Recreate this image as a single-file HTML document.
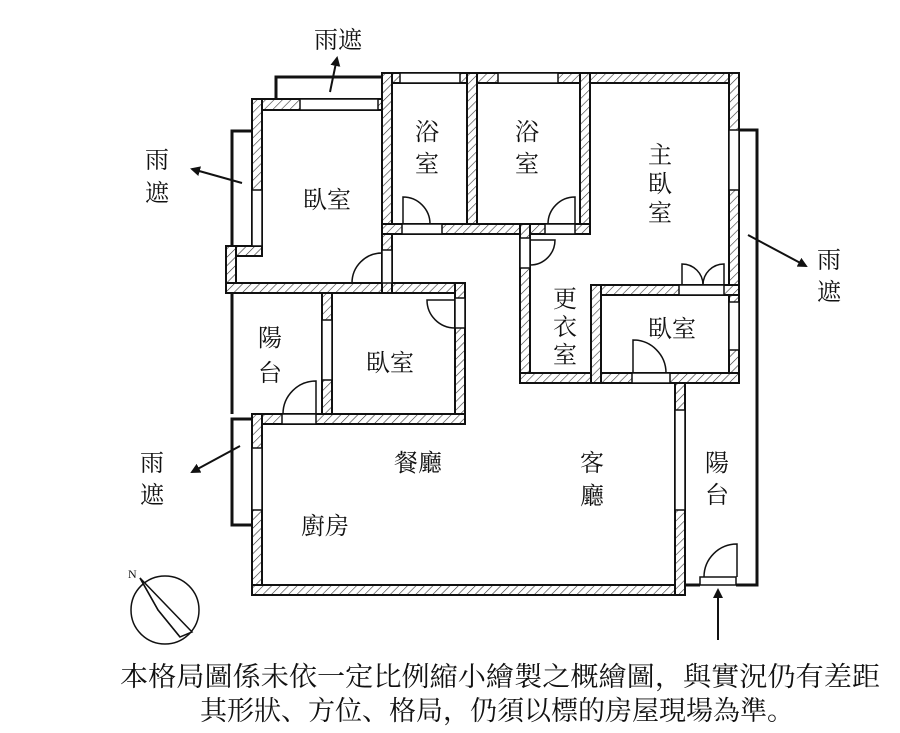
<!DOCTYPE html>
<html><head><meta charset="utf-8"><style>
html,body{margin:0;padding:0;background:#fff}
svg text{font-family:"Liberation Serif","Noto Serif CJK SC",serif;fill:#111}
</style></head><body>
<svg width="900" height="728" viewBox="0 0 900 728" xmlns="http://www.w3.org/2000/svg">
<defs>
<pattern id="h" width="6" height="6" patternUnits="userSpaceOnUse" patternTransform="rotate(45)">
<rect width="6" height="6" fill="#fff"/><line x1="0" y1="0" x2="0" y2="6" stroke="#333" stroke-width="1.2"/>
</pattern>
<marker id="ar" markerWidth="10" markerHeight="10" refX="8" refY="5" orient="auto" markerUnits="userSpaceOnUse"><path d="M0,0 L10,5 L0,10 z" fill="#111"/></marker>
</defs>
<g fill="url(#h)" stroke="#111" stroke-width="2">
<rect x="252" y="99" width="140" height="11"/>
<rect x="252" y="99" width="10" height="157"/>
<rect x="226" y="246" width="36" height="10"/>
<rect x="226" y="246" width="10" height="47"/>
<rect x="226" y="283" width="239" height="10"/>
<rect x="382" y="73" width="357" height="10"/>
<rect x="382" y="73" width="10" height="220"/>
<rect x="467" y="73" width="10" height="161"/>
<rect x="580" y="73" width="10" height="161"/>
<rect x="382" y="224" width="208" height="10"/>
<rect x="729" y="73" width="10" height="310"/>
<rect x="520" y="224" width="10" height="159"/>
<rect x="520" y="373" width="219" height="10"/>
<rect x="591" y="285" width="148" height="10"/>
<rect x="591" y="285" width="10" height="98"/>
<rect x="455" y="283" width="10" height="141"/>
<rect x="322" y="293" width="10" height="131"/>
<rect x="252" y="414" width="213" height="10"/>
<rect x="252" y="414" width="10" height="181"/>
<rect x="252" y="585" width="433" height="10"/>
<rect x="675" y="383" width="10" height="212"/>
</g>
<g fill="#fff" stroke="#111" stroke-width="1.5">
<rect x="300" y="99" width="78" height="11"/>
<rect x="252" y="190" width="10" height="56"/>
<rect x="400" y="73" width="60" height="10"/>
<rect x="498" y="73" width="60" height="10"/>
<rect x="729" y="130" width="10" height="60"/>
<rect x="729" y="302" width="10" height="48"/>
<rect x="252" y="448" width="10" height="62"/>
<rect x="675" y="410" width="10" height="100"/>
<rect x="322" y="320" width="10" height="60"/>
<rect x="455" y="298" width="10" height="30"/>
<rect x="520" y="238" width="10" height="30"/>
<rect x="402" y="224" width="40" height="10"/>
<rect x="545" y="224" width="30" height="10"/>
<rect x="679" y="285" width="45" height="10"/>
<rect x="632" y="373" width="38" height="10"/>
<rect x="282" y="414" width="34" height="10"/>
<rect x="700" y="577" width="36" height="8"/>
<rect x="382" y="250" width="10" height="33"/>
</g>
<g fill="none" stroke="#111" stroke-width="1.5">
<path d="M403,224 V197 A27,27 0 0 1 430,224"/>
<path d="M575,224 V197 A27,27 0 0 0 548,224"/>
<path d="M530,240 H555 A25,25 0 0 1 530,265"/>
<path d="M682,285 V264 A21,21 0 0 1 703,285 M724,285 V264 A21,21 0 0 0 703,285"/>
<path d="M633,373 V340 A33,33 0 0 1 666,373"/>
<path d="M455,300 H427 A28,28 0 0 0 455,328"/>
<path d="M382,283 H352 A30,30 0 0 1 382,253"/>
<path d="M316,414 V381 A33,33 0 0 0 283,414"/>
<path d="M737,577 V544 A33,33 0 0 0 704,577"/>
</g>
<g fill="none" stroke="#111" stroke-width="3">
<path d="M276,99 V77 H382"/>
<path d="M252,131 H232 V246"/>
<path d="M739,130 H757 V585 H736"/>
<path d="M685,585 H700"/>
<path d="M252,419 H232 V525 H252"/>
<path d="M232,293 V414"/>
</g>
<g stroke="#111" stroke-width="2">
<line x1="330" y1="92" x2="337" y2="58" marker-end="url(#ar)"/>
<line x1="242" y1="183" x2="192" y2="169" marker-end="url(#ar)"/>
<line x1="748" y1="235" x2="806" y2="266" marker-end="url(#ar)"/>
<line x1="240" y1="446" x2="192" y2="472" marker-end="url(#ar)"/>
<line x1="718" y1="640" x2="718" y2="590" marker-end="url(#ar)"/>
</g>
<g fill="none" stroke="#111" stroke-width="1.5">
<circle cx="165" cy="610" r="34"/>
<path d="M140,578 L192,632 L180,637 L158,610 Z" fill="#fff"/>
<path d="M140,578 L158,610 L180,637" />
</g>
<text x="128" y="578" font-size="12">N</text>
<g font-size="24" text-anchor="middle">
<text x="338" y="48">雨遮</text>
<text x="157" y="168">雨</text><text x="157" y="201">遮</text>
<text x="829" y="268">雨</text><text x="829" y="300">遮</text>
<text x="152" y="471">雨</text><text x="152" y="503">遮</text>
<text x="327" y="208">臥室</text>
<text x="427" y="140">浴</text><text x="427" y="172">室</text>
<text x="527" y="140">浴</text><text x="527" y="172">室</text>
<text x="660" y="163">主</text><text x="660" y="192">臥</text><text x="660" y="221">室</text>
<text x="565" y="307">更</text><text x="565" y="335">衣</text><text x="565" y="363">室</text>
<text x="672" y="337">臥室</text>
<text x="270" y="346">陽</text><text x="270" y="381">台</text>
<text x="390" y="371">臥室</text>
<text x="418" y="471">餐廳</text>
<text x="592" y="471">客</text><text x="592" y="504">廳</text>
<text x="325" y="534">廚房</text>
<text x="717" y="471">陽</text><text x="717" y="503">台</text>
</g>
<g font-size="27" text-anchor="middle">
<text x="500" y="686" textLength="760" lengthAdjust="spacingAndGlyphs">本格局圖係未依一定比例縮小繪製之概繪圖，與實況仍有差距</text>
<text x="497" y="720">其形狀、方位、格局，仍須以標的房屋現場為準。</text>
</g>
</svg>
</body></html>
